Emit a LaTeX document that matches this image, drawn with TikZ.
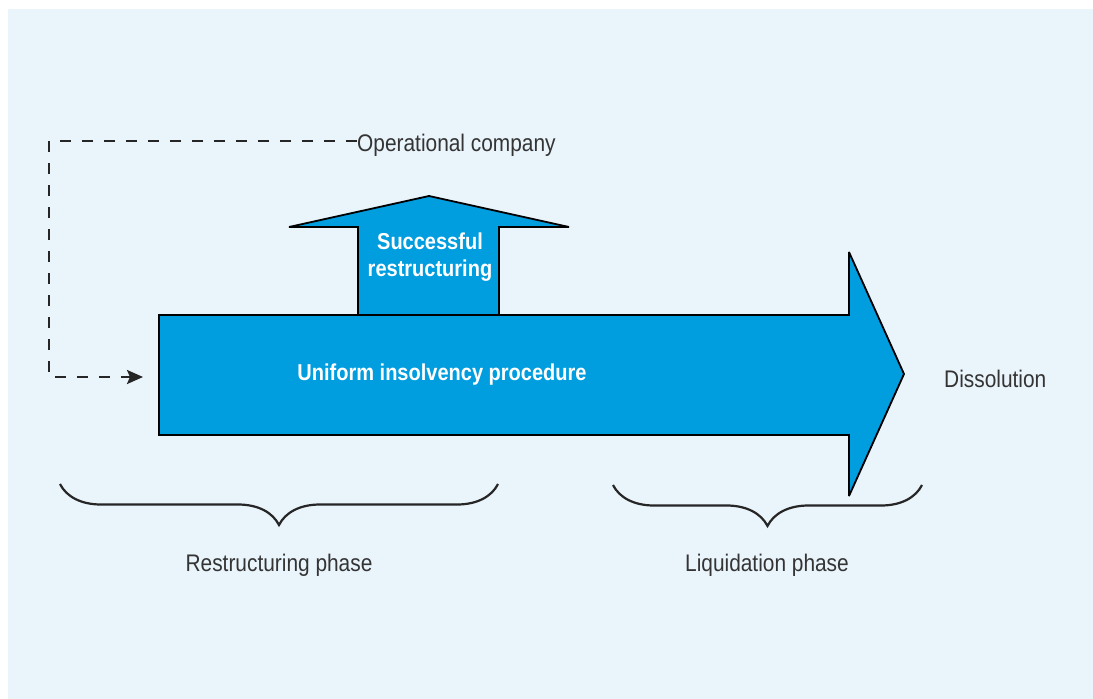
\documentclass[tikz,border=0pt]{standalone}
\usepackage{xcolor}
\usepackage{fontspec}
\usepackage{tikz}
\usetikzlibrary{positioning,arrows.meta,decorations.pathreplacing}
\newfontfamily\narrowsans[FakeStretch=0.87]{Liberation Sans}
\definecolor{panelblue}{RGB}{234,244,251}
\definecolor{procblue}{RGB}{0,157,223}
\definecolor{labelgray}{RGB}{52,52,52}
\tikzset{
    phasepanel/.style={fill=panelblue, draw=none},
    phasearrow/.style={draw=black, fill=procblue, line width=1.8pt, line join=miter, miter limit=2},
    phaseinner/.style={font=\narrowsans\bfseries\fontsize{23}{27}\selectfont, text=white, align=center, inner sep=0pt},
    phaselabel/.style={font=\narrowsans\fontsize{24}{26}\selectfont, text=labelgray, inner sep=0pt},
    phaselink/.style={draw=black!85, line width=2.4pt, dash pattern=on 11pt off 11pt, -{Stealth[length=16pt, width=14pt, inset=3pt]}},
    phasebrace/.style={draw=black!85, line width=2.2pt, decorate, decoration={brace, mirror, amplitude=41pt}}
}

\begin{document}
\begin{tikzpicture}[x=1pt, y=-1pt]
    \useasboundingbox (0,0) rectangle (1093,699);
    \fill[white] (0,0) rectangle (1093,699);
    \path[phasepanel] (8,9) rectangle (1093,699);

    % arrows
    \draw[phasearrow] (358,315) -- (358,227) -- (289,227) -- (429,196) -- (569,227) -- (499,227) -- (499,315) -- cycle;
    \draw[phasearrow] (159,315) -- (849,315) -- (849,252) -- (904,374) -- (849,496) -- (849,435) -- (159,435) -- cycle;

    \node[phaseinner] (success) at (430,257) {Successful\\restructuring};
    \node[phaseinner] (procedure) at (442,375) {Uniform insolvency procedure};

    % labels
    \node[phaselabel, anchor=west] (opco) at (357,145) {Operational company};
    \node[phaselabel, anchor=west] (dissolution) at (944,379) {Dissolution};
    \node[phaselabel] (restruct) at (279,565) {Restructuring phase};
    \node[phaselabel] (liquid) at (767,565) {Liquidation phase};

    % feedback line
    \coordinate (corner) at (49,141);
    \coordinate (entry) at (143,377);
    \draw[phaselink] (opco.west |- corner) -- (corner) |- (entry);

    % braces
    \coordinate (rsleft) at (60,484);
    \coordinate (rsright) at (498,484);
    \coordinate (lqleft) at (613,485);
    \coordinate (lqright) at (922,485);
    \draw[phasebrace] (rsleft) -- (rsright);
    \draw[phasebrace] (lqleft) -- (lqright);
\end{tikzpicture}
\end{document}
